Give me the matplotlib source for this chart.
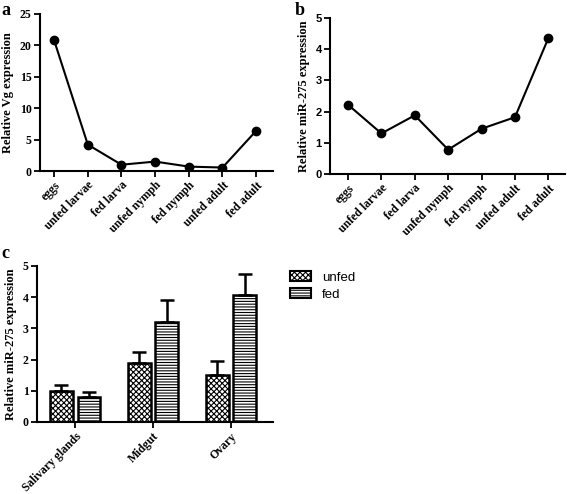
import numpy as np
import matplotlib
matplotlib.use("Agg")
from matplotlib import pyplot as plt
from matplotlib.patches import Patch

stages = ["eggs", "unfed larvae", "fed larva", "unfed nymph", "fed nymph", "unfed adult", "fed adult"]
vg_expr = [20.8, 4.2, 1.0, 1.5, 0.7, 0.55, 6.4]
mir_stage_expr = [2.22, 1.3, 1.88, 0.78, 1.45, 1.82, 4.35]

tissues = ["Salivary glands", "Midgut", "Ovary"]
unfed_mean = [1.0, 1.9, 1.5]
unfed_err = [0.17, 0.33, 0.45]
fed_mean = [0.8, 3.22, 4.07]
fed_err = [0.15, 0.70, 0.66]

plt.rcParams["hatch.linewidth"] = 0.8
serif = ["Liberation Serif", "DejaVu Serif"]
sans = ["Liberation Sans", "DejaVu Sans"]

W, H = 567, 494
fig = plt.figure(figsize=(W / 100, H / 100), dpi=100)


def px_axes(left, top, right, bottom):
    return fig.add_axes([left / W, 1 - bottom / H, (right - left) / W, (bottom - top) / H])


def style(ax, tick_family, size):
    for s in ["top", "right"]:
        ax.spines[s].set_visible(False)
    for s in ["left", "bottom"]:
        ax.spines[s].set_linewidth(1.5)
    ax.tick_params(width=1.3, length=4, direction="out", pad=2)
    for lab in ax.get_yticklabels():
        lab.set_family(tick_family)
        lab.set_fontweight("bold")
        lab.set_fontsize(size)


xfont = dict(family=serif, fontweight="bold", fontsize=8.5)
yfont = dict(family=serif, fontweight="bold", fontsize=9)

# panel a
ax1 = px_axes(40, 14, 273, 171)
x = np.arange(len(stages))
ax1.plot(x, vg_expr, color="black", lw=1.5, marker="o", ms=6)
ax1.set_xlim(-0.42, 6.5)
ax1.set_ylim(0, 25)
ax1.set_yticks([0, 5, 10, 15, 20, 25])
ax1.set_xticks(x)
ax1.set_xticklabels(stages, rotation=45, ha="right", rotation_mode="anchor", **xfont)
ax1.set_ylabel("Relative Vg expression", labelpad=4, **yfont)
style(ax1, serif, 8.5)

# panel b
ax2 = px_axes(330, 18, 565, 174)
ax2.plot(x, mir_stage_expr, color="black", lw=1.5, marker="o", ms=6)
ax2.set_xlim(-0.54, 6.5)
ax2.set_ylim(0, 5)
ax2.set_yticks([0, 1, 2, 3, 4, 5])
ax2.set_xticks(x)
ax2.set_xticklabels(stages, rotation=45, ha="right", rotation_mode="anchor", **xfont)
ax2.set_ylabel("Relative miR-275 expression", labelpad=4, **yfont)
style(ax2, sans, 8)

# panel c
ax3 = px_axes(37, 266, 273, 422)
xc = np.arange(len(tissues))
bw = 0.29
off = 0.176
ekw = dict(ecolor="black", elinewidth=1.8, capsize=5, capthick=1.8)
ax3.bar(xc - off, unfed_mean, bw, color="white", edgecolor="black", lw=1.8, hatch="xxxxxx",
        yerr=[np.zeros(len(tissues)), unfed_err], error_kw=ekw, label="unfed")
ax3.bar(xc + off, fed_mean, bw, color="white", edgecolor="black", lw=1.8, hatch="------",
        yerr=[np.zeros(len(tissues)), fed_err], error_kw=ekw, label="fed")
ax3.set_xlim(-0.49, 2.54)
ax3.set_ylim(0, 5)
ax3.set_yticks([0, 1, 2, 3, 4, 5])
ax3.set_xticks(xc)
ax3.set_xticklabels(tissues, rotation=45, ha="right", rotation_mode="anchor", **xfont)
ax3.set_ylabel("Relative miR-275 expression", labelpad=4, **yfont)
style(ax3, serif, 8.5)

handles = [Patch(facecolor="white", edgecolor="black", hatch="xxxxxx", lw=1.5, label="unfed"),
           Patch(facecolor="white", edgecolor="black", hatch="------", lw=1.5, label="fed")]
fig.legend(handles=handles, loc="upper left", bbox_to_anchor=(285 / W, 1 - 266 / H), frameon=False,
           prop={"family": sans, "size": 9.5}, handlelength=1.6, handleheight=0.8,
           handletextpad=0.8, labelspacing=0.3, borderaxespad=0)

fig.text(1 / W, 1 - 15 / H, "a", family=serif, fontweight="bold", fontsize=13)
fig.text(295 / W, 1 - 15 / H, "b", family=serif, fontweight="bold", fontsize=13)
fig.text(1 / W, 1 - 258 / H, "c", family=serif, fontweight="bold", fontsize=13)

fig.savefig("out.png", dpi=100)
